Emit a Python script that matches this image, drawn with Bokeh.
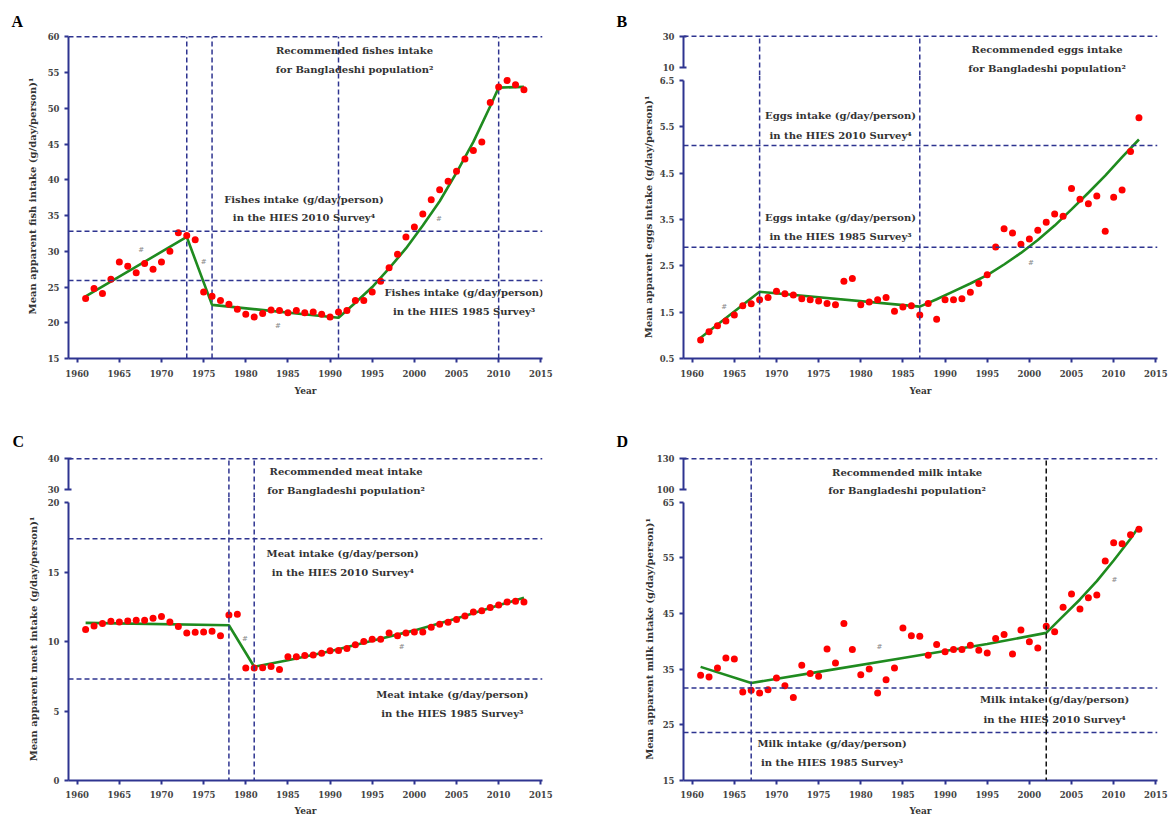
from bokeh.plotting import figure
from bokeh.layouts import row, column
from bokeh.models import Span, FixedTicker, Range1d, Title
from bokeh.core.properties import value
from bokeh.embed import file_html
from bokeh.resources import INLINE

# ---------------- data ----------------
YEARS = list(range(1961, 2014))
XTICKS = [1960, 1965, 1970, 1975, 1980, 1985, 1990, 1995, 2000, 2005, 2010, 2015]

fish = [23.4, 24.8, 24.1, 26.1, 28.5, 27.9, 27.0, 28.3, 27.5, 28.5,
        30.0, 32.6, 32.2, 31.6, 24.3, 23.7, 23.1, 22.6, 21.9, 21.2,
        20.8, 21.3, 21.8, 21.7, 21.4, 21.7, 21.4, 21.5, 21.2, 20.8,
        21.5, 21.7, 23.1, 23.1, 24.3, 25.8, 27.7, 29.6, 32.0, 33.4,
        35.2, 37.2, 38.6, 39.8, 41.2, 42.9, 44.1, 45.3, 50.8, 53.0,
        53.9, 53.3, 52.6]
fish_fit_years = [1961, 1973, 1976, 1991, 1993, 1995, 1997, 1999, 2001, 2003, 2005, 2007, 2009, 2010, 2013]
fish_fit = [23.7, 32.0, 22.5, 20.7, 22.8, 25.0, 27.6, 30.4, 33.6, 37.0, 41.0, 45.3, 50.3, 52.9, 53.0]
fish_yticks = [15, 20, 25, 30, 35, 40, 45, 50, 55, 60]
fish_hlines = [60, 32.8, 25.9]
fish_vlines = [1973, 1976, 1991, 2010]

eggs = [0.90, 1.08, 1.21, 1.31, 1.44, 1.64, 1.68, 1.77, 1.82, 1.95,
        1.90, 1.87, 1.79, 1.77, 1.74, 1.69, 1.66, 2.17, 2.23, 1.66,
        1.72, 1.77, 1.82, 1.52, 1.61, 1.64, 1.44, 1.69, 1.35, 1.77,
        1.77, 1.79, 1.93, 2.12, 2.31, 2.91, 3.30, 3.21, 2.97, 3.08,
        3.27, 3.44, 3.62, 3.57, 4.17, 3.94, 3.84, 4.01, 3.25, 3.98,
        4.14, 4.97, 5.70]
eggs_fit_years = [1961, 1968, 1987, 1989, 1991, 1993, 1995, 1997, 1999, 2001, 2003, 2005, 2007, 2009, 2011, 2013]
eggs_fit = [0.95, 1.94, 1.62, 1.78, 1.95, 2.12, 2.30, 2.53, 2.78, 3.06, 3.37, 3.72, 4.08, 4.45, 4.85, 5.23]
eggs_yticks = [0.5, 1.5, 2.5, 3.5, 4.5, 5.5, 6.5]
eggs_yticks_up = [10, 30]
eggs_hlines = [5.1, 2.9]
eggs_hline_up = [30]
eggs_vlines = [1968, 1987]

meat = [10.86, 11.12, 11.29, 11.46, 11.41, 11.48, 11.53, 11.53, 11.67, 11.79,
        11.41, 11.08, 10.62, 10.67, 10.69, 10.74, 10.41, 11.91, 11.96, 8.09,
        8.09, 8.11, 8.21, 7.99, 8.90, 8.90, 9.00, 9.02, 9.16, 9.33,
        9.35, 9.50, 9.76, 10.00, 10.17, 10.17, 10.62, 10.41, 10.62, 10.69,
        10.69, 11.03, 11.24, 11.39, 11.58, 11.84, 12.13, 12.22, 12.44, 12.63,
        12.85, 12.89, 12.85]
meat_fit_years = [1961, 1978, 1981, 1985, 1990, 1995, 2000, 2005, 2010, 2013]
meat_fit = [11.34, 11.17, 8.18, 8.65, 9.30, 10.05, 10.80, 11.65, 12.60, 13.15]
meat_yticks = [0, 5, 10, 15, 20]
meat_yticks_up = [30, 40]
meat_hlines = [17.4, 7.3]
meat_hline_up = [40]
meat_vlines = [1978, 1981]

milk = [33.9, 33.6, 35.2, 37.0, 36.8, 30.9, 31.2, 30.7, 31.3, 33.4,
        32.0, 29.9, 35.7, 34.2, 33.7, 38.6, 36.1, 43.2, 38.5, 34.0,
        35.0, 30.7, 33.1, 35.2, 42.4, 41.0, 40.9, 37.5, 39.4, 38.1,
        38.5, 38.5, 39.3, 38.4, 37.9, 40.5, 41.2, 37.7, 42.0, 39.9,
        38.8, 42.7, 41.7, 46.1, 48.5, 45.8, 47.8, 48.3, 54.4, 57.7,
        57.5, 59.1, 60.1]
milk_fit_years = [1961, 1967, 1975, 1985, 1995, 2002, 2004, 2006, 2008, 2010, 2012, 2013]
milk_fit = [35.4, 32.5, 34.5, 37.0, 39.5, 41.5, 44.5, 47.5, 50.8, 54.5, 58.4, 60.6]
milk_yticks = [15, 25, 35, 45, 55, 65]
milk_yticks_up = [100, 130]
milk_hlines = [31.6, 23.6]
milk_hline_up = [130]
milk_vlines = [1967]
milk_vlines_black = [2002]

# annotation texts (text, year, value)
fish_notes = [("Recommended fishes intake", 1992.9, 58.1),
              ("for Bangladeshi population²", 1992.9, 55.4),
              ("Fishes intake (g/day/person)", 1986.9, 37.3),
              ("in the HIES 2010 Survey⁴", 1986.9, 34.7),
              ("Fishes intake (g/day/person)", 2005.9, 24.2),
              ("in the HIES 1985 Survey³", 2005.9, 21.6)]
fish_hash = [(1967.6, 30.2), (1975.0, 28.5), (1983.8, 19.6), (2002.9, 34.5)]

eggs_notes_up = [("Recommended eggs intake", 2002.1, 21.4),
                 ("for Bangladeshi population²", 2002.1, 9.3)]
eggs_notes = [("Eggs intake (g/day/person)", 1977.6, 5.75),
              ("in the HIES 2010 Survey⁴", 1977.6, 5.32),
              ("Eggs intake (g/day/person)", 1977.6, 3.54),
              ("in the HIES 1985 Survey³", 1977.6, 3.13)]
eggs_hash = [(1963.8, 1.62), (2000.2, 2.57)]

meat_notes_up = [("Recommended meat intake", 1991.9, 35.9),
                 ("for Bangladeshi population²", 1991.9, 29.8)]
meat_notes = [("Meat intake (g/day/person)", 1991.5, 16.3),
              ("in the HIES 2010 Survey⁴", 1991.5, 14.98),
              ("Meat intake (g/day/person)", 2004.5, 6.22),
              ("in the HIES 1985 Survey³", 2004.5, 4.81)]
meat_hash = [(1979.9, 10.17), (1998.5, 9.57)]

milk_notes_up = [("Recommended milk intake", 1985.5, 116.6),
                 ("for Bangladeshi population²", 1985.5, 98.8)]
milk_notes = [("Milk intake (g/day/person)", 2003.0, 29.6),
              ("in the HIES 2010 Survey⁴", 2003.0, 26.0),
              ("Milk intake (g/day/person)", 1976.6, 21.6),
              ("in the HIES 1985 Survey³", 1976.6, 18.2)]
milk_hash = [(1982.2, 39.0), (2010.1, 51.0)]

# ---------------- styling ----------------
NAVY = "#2e3490"
RED = "#ff0000"
GREEN = "#1f8b1f"
TXT = "#333333"
SERIF = "DejaVu Serif"
DASH = "5 3"

X0, X1 = 1958.97, 2015.2


def make_fig(w, h, left, right, top, bottom, y0, y1, xaxis=True):
    p = figure(width=w, height=h, x_range=Range1d(X0, X1), y_range=Range1d(y0, y1),
               output_backend="svg", toolbar_location=None, title=None,
               min_border_left=left, min_border_right=right,
               min_border_top=top, min_border_bottom=bottom,
               x_axis_location="below" if xaxis else None)
    p.outline_line_color = None
    p.grid.visible = False
    p.background_fill_color = "white"
    p.border_fill_color = "white"
    return p


def style_axis(ax, ticks, bounds=None, tick_in=0):
    ax.ticker = FixedTicker(ticks=ticks)
    if bounds is not None:
        ax.bounds = bounds
    ax.axis_line_color = NAVY
    ax.axis_line_width = 2
    ax.major_tick_line_color = NAVY
    ax.major_tick_line_width = 2
    ax.major_tick_out = 4
    ax.major_tick_in = tick_in
    ax.minor_tick_line_color = None
    ax.major_label_text_font = SERIF
    ax.major_label_text_font_style = "bold"
    ax.major_label_text_font_size = "8.5px"
    ax.major_label_text_color = "#444444"
    ax.axis_label_text_font = SERIF
    ax.axis_label_text_font_style = "bold"
    ax.axis_label_text_font_size = "10px"
    ax.axis_label_text_color = TXT


def style_x(p, label_standoff, title_standoff):
    ax = p.xaxis[0]
    style_axis(ax, XTICKS)
    ax.major_label_standoff = label_standoff
    ax.axis_label = "Year"
    ax.axis_label_text_font_size = "9px"
    ax.axis_label_standoff = title_standoff


def hspans(p, locs, color=NAVY):
    for v in locs:
        p.add_layout(Span(location=v, dimension="width", line_color=color,
                          line_dash=DASH, line_width=1.5))


def vspans(p, locs, color=NAVY):
    for v in locs:
        p.add_layout(Span(location=v, dimension="height", line_color=color,
                          line_dash=DASH, line_width=1.5))


def vsegs(p, locs, y0, y1, color=NAVY):
    p.segment(x0=locs, y0=[y0] * len(locs), x1=locs, y1=[y1] * len(locs),
              line_color=color, line_dash=DASH, line_width=1.5)


def notes(p, items):
    p.text(x=[n[1] for n in items], y=[n[2] for n in items], text=[n[0] for n in items],
           text_align="center", text_baseline="middle", text_font=value(SERIF),
           text_font_style="bold", text_font_size="10px", text_color=TXT)


def hashes(p, items):
    p.text(x=[h[0] for h in items], y=[h[1] for h in items], text=["#"] * len(items),
           text_align="center", text_baseline="middle", text_font=value(SERIF),
           text_font_size="7px", text_color="#888888")


def series(p, fit_x, fit_y, vals):
    p.line(fit_x, fit_y, line_color=GREEN, line_width=2.6)
    p.scatter(YEARS, vals, size=7, fill_color=RED, line_color=None)


def letter(p, text, offset, standoff):
    p.title = Title(text=text, align="left", offset=offset, standoff=standoff,
                    text_font="Liberation Serif", text_font_style="bold",
                    text_font_size="16px", text_color="black")


def ylabel(p, text, standoff):
    ax = p.yaxis[0]
    ax.axis_label = text
    ax.axis_label_standoff = standoff


# ---------------- Panel A (fish) ----------------
pA = make_fig(583, 423, 68, 41, 33, 65, 15, 60.47)
style_axis(pA.yaxis[0], fish_yticks, bounds=(15, 60))
ylabel(pA, "Mean apparent fish intake (g/day/person)¹", 7)
style_x(pA, 7, 6)
hspans(pA, fish_hlines)
vsegs(pA, fish_vlines, 15, 60)
notes(pA, fish_notes)
hashes(pA, fish_hash)
series(pA, fish_fit_years, fish_fit, fish)
letter(pA, "A", -57, 8)

# ---------------- Panel B (eggs) ----------------
BU_Y0, BU_Y1 = 4.65, 31.74
pBu = make_fig(587, 75, 100, 13, 33, 0, BU_Y0, BU_Y1, xaxis=False)
style_axis(pBu.yaxis[0], eggs_yticks_up, bounds=(10, 30), tick_in=3)
hspans(pBu, eggs_hline_up)
vsegs(pBu, eggs_vlines, BU_Y0, 30)
notes(pBu, eggs_notes_up)
letter(pBu, "B", -67, 8)

pBl = make_fig(587, 348, 100, 13, 0, 65, 0.5, 6.612)
style_axis(pBl.yaxis[0], eggs_yticks, bounds=(0.5, 6.5))
ylabel(pBl, "Mean apparent eggs intake (g/day/person)¹", 3)
style_x(pBl, 7, 6)
hspans(pBl, eggs_hlines)
vspans(pBl, eggs_vlines)
notes(pBl, eggs_notes)
hashes(pBl, eggs_hash)
series(pBl, eggs_fit_years, eggs_fit, eggs)

# ---------------- Panel C (meat) ----------------
CU_Y0, CU_Y1 = 27.39, 41.07
pCu = make_fig(583, 74, 68, 41, 32, 0, CU_Y0, CU_Y1, xaxis=False)
style_axis(pCu.yaxis[0], meat_yticks_up, bounds=(30, 40), tick_in=3)
hspans(pCu, meat_hline_up)
vsegs(pCu, meat_vlines, CU_Y0, 40)
notes(pCu, meat_notes_up)
letter(pCu, "C", -56, 11)

pCl = make_fig(583, 322, 68, 41, 0, 39, 0, 20.36)
style_axis(pCl.yaxis[0], meat_yticks, bounds=(0, 20))
ylabel(pCl, "Mean apparent meat intake (g/day/person)¹", 6)
style_x(pCl, 6, 5)
hspans(pCl, meat_hlines)
vspans(pCl, meat_vlines)
notes(pCl, meat_notes)
hashes(pCl, meat_hash)
series(pCl, meat_fit_years, meat_fit, meat)

# ---------------- Panel D (milk) ----------------
DU_Y0, DU_Y1 = 92.17, 133.2
pDu = make_fig(587, 74, 100, 13, 32, 0, DU_Y0, DU_Y1, xaxis=False)
style_axis(pDu.yaxis[0], milk_yticks_up, bounds=(100, 130), tick_in=3)
hspans(pDu, milk_hline_up)
vsegs(pDu, milk_vlines, DU_Y0, 130)
vsegs(pDu, milk_vlines_black, DU_Y0, 130, color="#111111")
notes(pDu, milk_notes_up)
letter(pDu, "D", -67, 11)

pDl = make_fig(587, 322, 100, 13, 0, 39, 15, 65.81)
style_axis(pDl.yaxis[0], milk_yticks, bounds=(15, 65))
ylabel(pDl, "Mean apparent milk intake (g/day/person)¹", 5)
style_x(pDl, 6, 5)
hspans(pDl, milk_hlines)
vspans(pDl, milk_vlines)
vspans(pDl, milk_vlines_black, color="#111111")
notes(pDl, milk_notes)
hashes(pDl, milk_hash)
series(pDl, milk_fit_years, milk_fit, milk)

layout = column(
    row(pA, column(pBu, pBl, spacing=0), spacing=0),
    row(column(pCu, pCl, spacing=0), column(pDu, pDl, spacing=0), spacing=0),
    spacing=0,
)

open("out.html", "w").write(file_html(layout, INLINE))
